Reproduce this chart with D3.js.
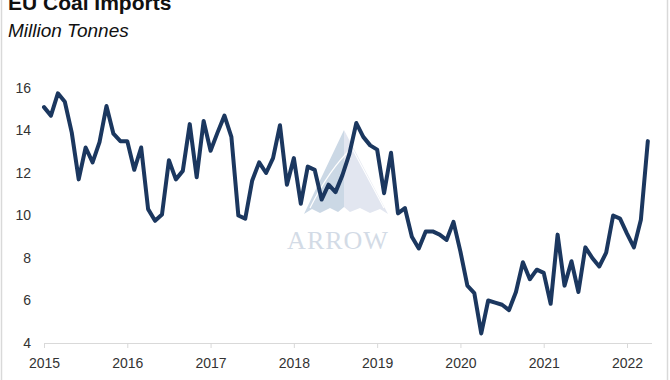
<!DOCTYPE html>
<html>
<head>
<meta charset="utf-8">
<script src="https://cdn.jsdelivr.net/npm/d3@7"></script>
<style>
  html, body { margin: 0; padding: 0; background: #fff; }
  svg { display: block; }
</style>
</head>
<body>
<svg id="chart" width="670" height="380"></svg>
<script>
// ---- data (monthly, Jan 2015 - Apr 2022), million tonnes ----
const years = ["2015", "2016", "2017", "2018", "2019", "2020", "2021", "2022"];
const yTicks = [4, 6, 8, 10, 12, 14, 16];
const imports2015 = [15.1, 14.7, 15.75, 15.35, 13.9, 11.7, 13.2, 12.5, 13.45, 15.15, 13.85, 13.5];
const imports2016 = [13.5, 12.15, 13.2, 10.3, 9.75, 10.05, 12.6, 11.7, 12.1, 14.3, 11.8, 14.45];
const imports2017 = [13.05, 13.9, 14.7, 13.7, 10.0, 9.85, 11.65, 12.5, 12.0, 12.7, 14.25, 11.45];
const imports2018 = [12.7, 10.55, 12.3, 12.15, 10.75, 11.45, 11.1, 11.9, 12.9, 14.35, 13.7, 13.3];
const imports2019 = [13.1, 11.05, 12.95, 10.1, 10.35, 9.0, 8.45, 9.25, 9.25, 9.1, 8.85, 9.7];
const imports2020 = [8.3, 6.7, 6.35, 4.45, 6.0, 5.9, 5.8, 5.55, 6.4, 7.8, 7.0, 7.45];
const imports2021 = [7.3, 5.85, 9.1, 6.7, 7.85, 6.4, 8.5, 8.0, 7.6, 8.25, 10.0, 9.85];
const imports2022 = [9.15, 8.5, 9.8, 13.5];

const series = [].concat(imports2015, imports2016, imports2017, imports2018,
                         imports2019, imports2020, imports2021, imports2022);

const svg = d3.select("#chart");
const W = 670, H = 380;

// frame lines
svg.append("line").attr("x1", 1.5).attr("x2", 1.5).attr("y1", 0).attr("y2", H)
  .attr("stroke", "#d9d9d9").attr("stroke-width", 1.5);
svg.append("line").attr("x1", 667.5).attr("x2", 667.5).attr("y1", 0).attr("y2", H)
  .attr("stroke", "#d9d9d9").attr("stroke-width", 1.5);

// titles
svg.append("text").attr("x", 8).attr("y", 10)
  .attr("font-family", "Liberation Sans, Arial, sans-serif")
  .attr("font-weight", "bold").attr("font-size", 21).attr("fill", "#111")
  .text("EU Coal Imports");
svg.append("text").attr("x", 8).attr("y", 37)
  .attr("font-family", "Liberation Sans, Arial, sans-serif")
  .attr("font-style", "italic").attr("font-size", 19).attr("fill", "#111")
  .text("Million Tonnes");

// scales
const x = d3.scaleLinear().domain([0, 84]).range([44, 627]);
const y = d3.scaleLinear().domain([4, 16]).range([343, 88]);

// watermark (decorative)
const wm = svg.append("g");
wm.append("path").attr("d", "M344,130 L304,214 L312,209 L320,213 L330,208 L338,212 L344,207 Z").attr("fill", "#cbd8e5");
wm.append("path").attr("d", "M344,130 L388,214 L380,209 L370,213 L360,208 L350,212 L344,207 Z").attr("fill", "#e2e6f0");
wm.append("path").attr("d", "M310,208 Q330,168 352,148 Q368,178 384,208").attr("fill", "none")
  .attr("stroke", "#ffffff").attr("stroke-width", 1.2);
wm.append("text").attr("x", 338).attr("y", 249).attr("text-anchor", "middle")
  .attr("font-family", "Liberation Serif, DejaVu Serif, serif").attr("font-size", 26)
  .attr("fill", "#d3dbe6").attr("letter-spacing", 1).text("ARROW");

// y axis
const yAxis = d3.axisLeft(y).tickValues(yTicks).tickSize(0).tickPadding(13);
const gy = svg.append("g").attr("transform", "translate(44,0)").call(yAxis);
gy.select(".domain").remove();
gy.selectAll("text").attr("font-family", "Liberation Sans, Arial, sans-serif")
  .attr("font-size", 14).attr("fill", "#333");

// x axis
const xAxis = d3.axisBottom(x).tickValues(d3.range(0, 85, 12))
  .tickFormat((d, i) => years[i]).tickSize(5).tickPadding(10).tickSizeOuter(0);
const gx = svg.append("g").attr("transform", "translate(0,343)").call(xAxis);
gx.select(".domain").attr("stroke", "#d9d9d9").attr("d", "M44,0.5H652");
gx.selectAll(".tick line").attr("stroke", "#d9d9d9");
gx.selectAll("text").attr("font-family", "Liberation Sans, Arial, sans-serif")
  .attr("font-size", 14).attr("fill", "#333");

// line
const line = d3.line().x((d, i) => x(i)).y(d => y(d));
svg.append("path").datum(series).attr("d", line)
  .attr("fill", "none").attr("stroke", "#1b375f").attr("stroke-width", 4)
  .attr("stroke-linejoin", "round").attr("stroke-linecap", "round");
</script>
</body>
</html>
